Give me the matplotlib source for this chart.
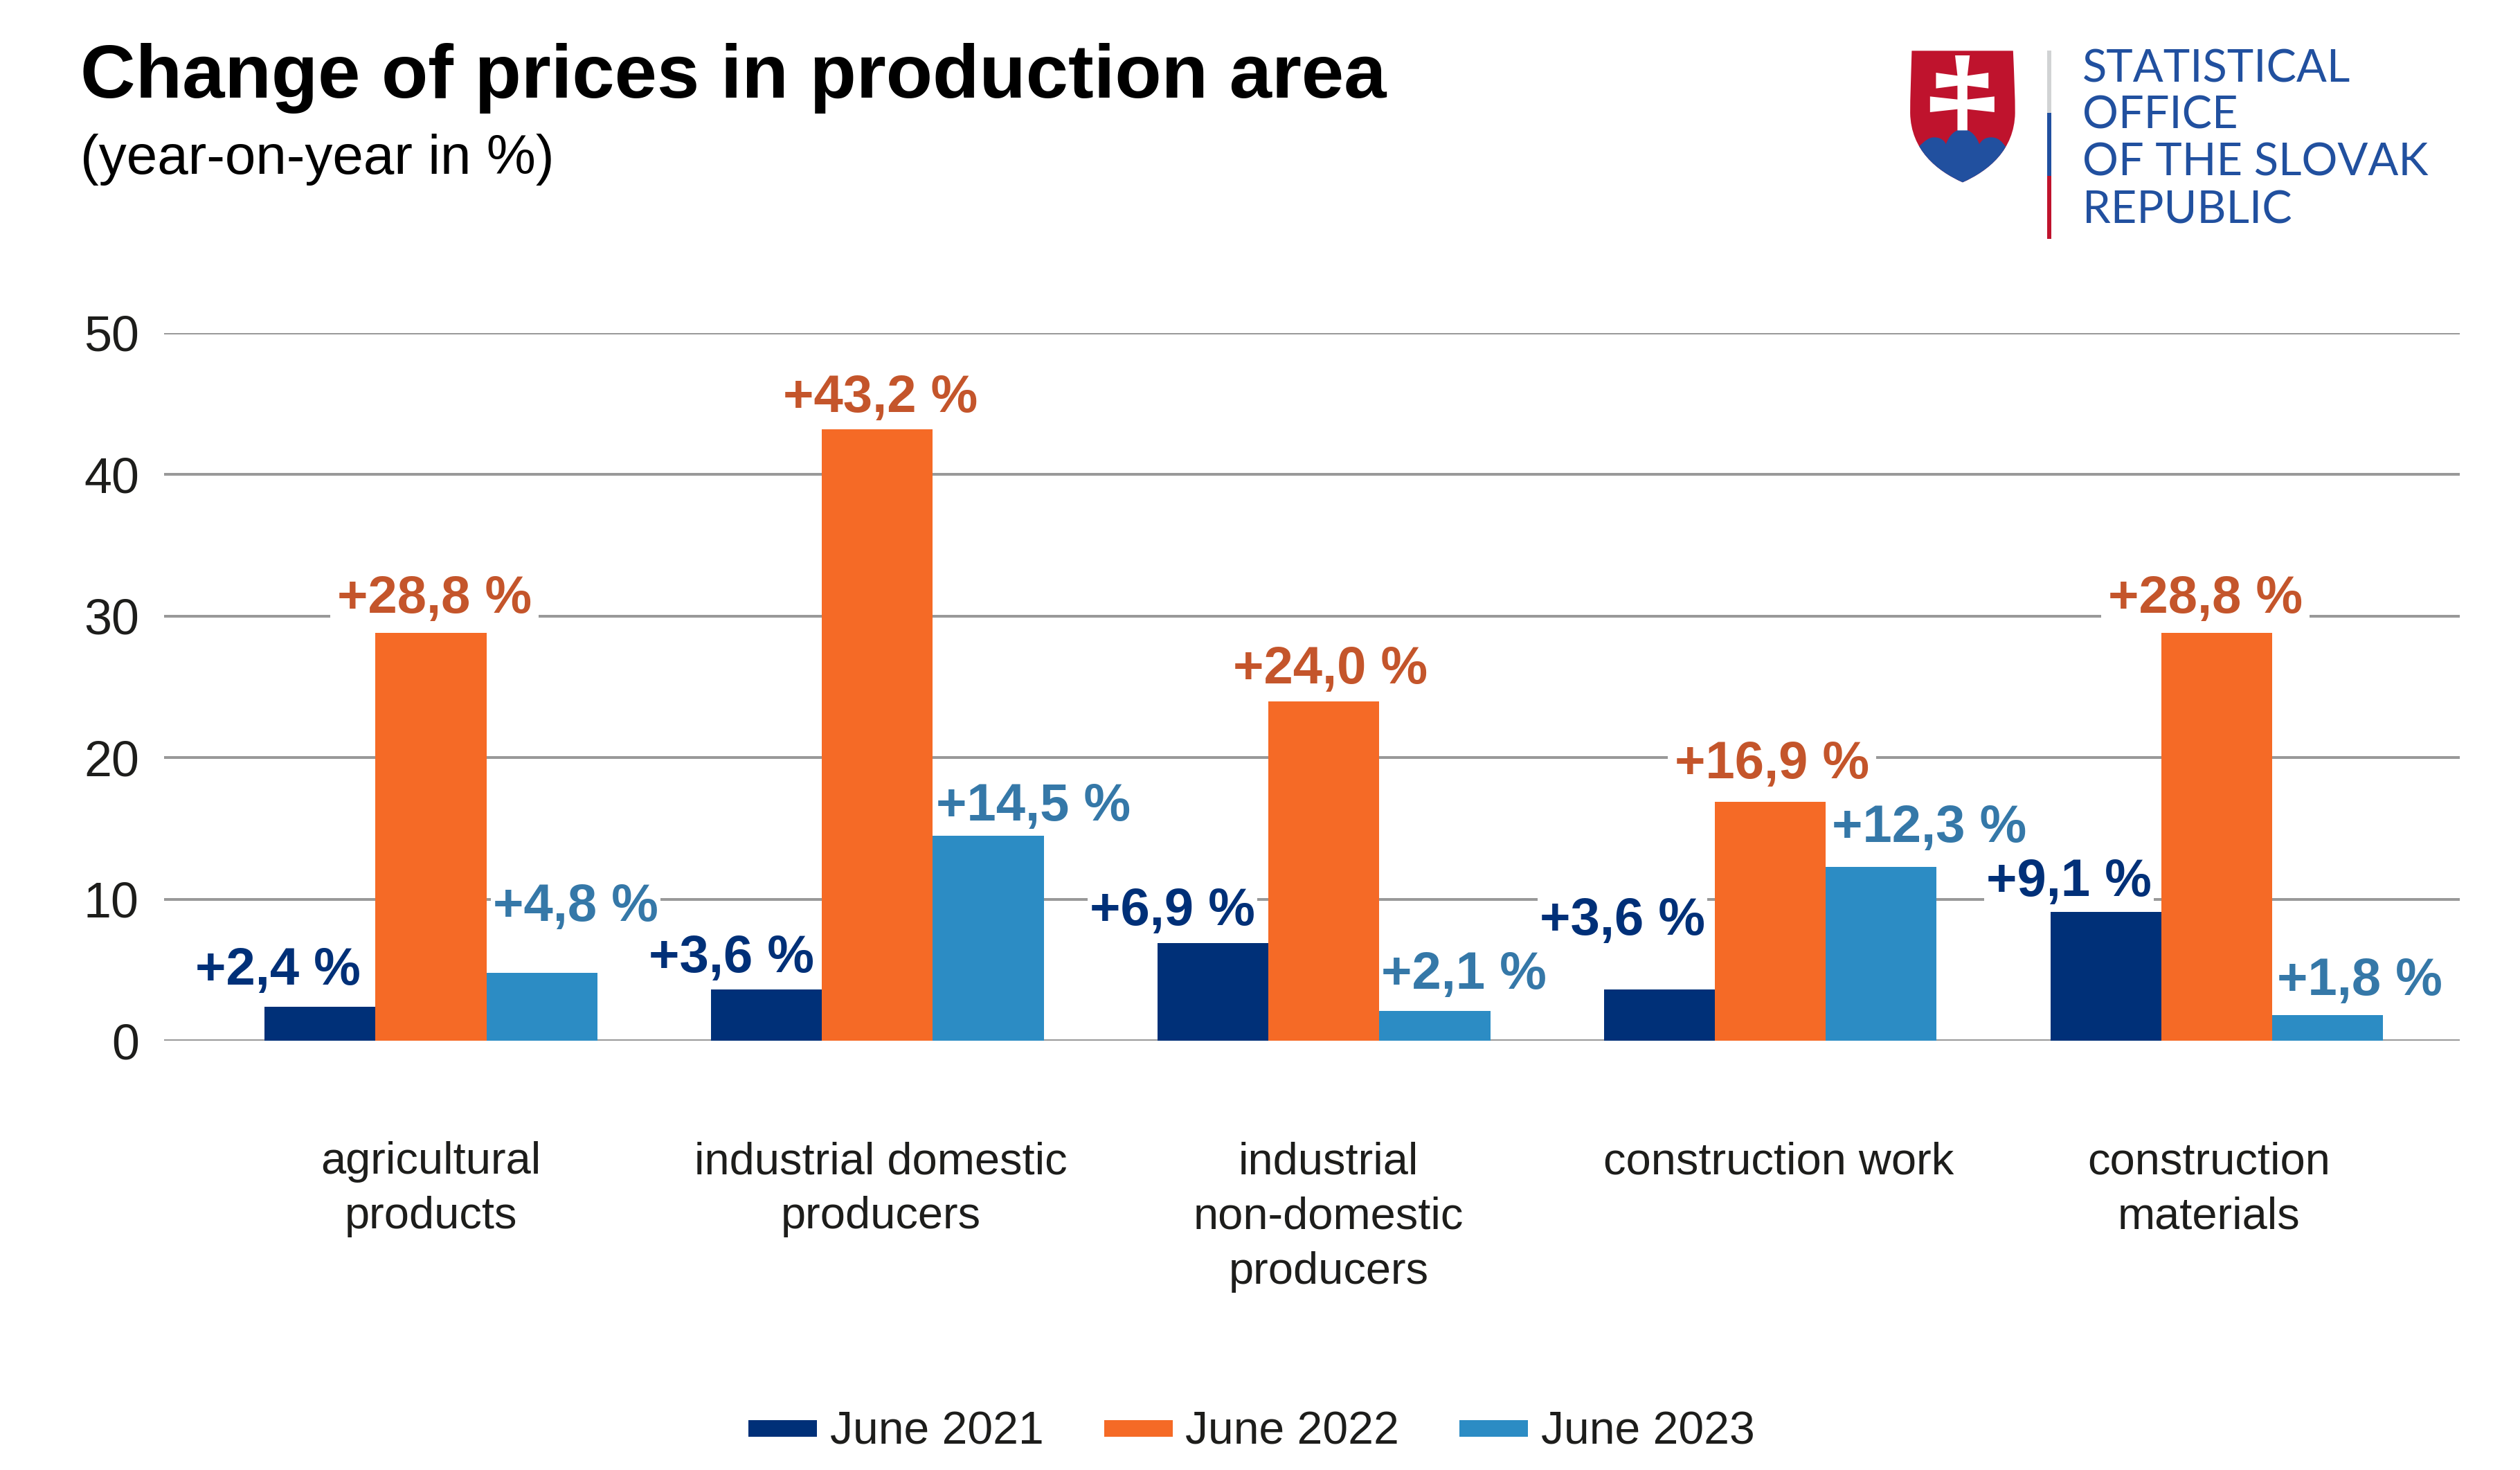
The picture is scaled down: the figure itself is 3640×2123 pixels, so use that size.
import numpy as np
import matplotlib
matplotlib.use('Agg')
from matplotlib import pyplot as plt
from matplotlib.patches import PathPatch, Rectangle
from matplotlib.path import Path
from matplotlib.lines import Line2D

plt.rcParams['font.family'] = ['Liberation Sans', 'DejaVu Sans']

W, H = 3641, 2123
DPI = 100

categories = ['agricultural\nproducts', 'industrial domestic\nproducers',
              'industrial\nnon-domestic\nproducers', 'construction work',
              'construction\nmaterials']
series_names = ['June 2021', 'June 2022', 'June 2023']
june_2021 = [2.4, 3.6, 6.9, 3.6, 9.1]
june_2022 = [28.8, 43.2, 24.0, 16.9, 28.8]
june_2023 = [4.8, 14.5, 2.1, 12.3, 1.8]
y_ticks = [0, 10, 20, 30, 40, 50]

colors = ['#003078', '#f56a26', '#2c8cc4']
label_colors = ['#003078', '#c4552b', '#3578a8']

# hand placed data labels, offset from the top of each bar (px in the 1568 wide view)
label_dx = [[-26, -22, -25, -23, -23], [2, 2, 4, 1, -7], [21, 28, 18, 30, 20]]
label_dy = [[2.5, 2.2, 2.2, 4.85, 2.1], [2.4, 2.2, 2.2, 2.6, 2.4], [4.6, 2.0, 2.5, 2.7, 2.4]]
cat_dx = [0, 2, 3, 5, -5]

def px(v):
    return v * 72 / DPI

fig = plt.figure(figsize=(W / DPI, H / DPI), dpi=DPI)
ax = fig.add_axes([237 / W, 1 - 1503 / H, (3553 - 237) / W, (1503 - 481) / H])

step = 277.7
bar_w = 69 / step
x = np.arange(len(categories))
all_series = [june_2021, june_2022, june_2023]

for i, vals in enumerate(all_series):
    ax.bar(x + (i - 1) * bar_w, vals, bar_w, color=colors[i], zorder=3)

for i, vals in enumerate(all_series):
    for j, v in enumerate(vals):
        txt = '+' + f'{v:.1f}'.replace('.', ',') + ' %'
        ax.text(j + (i - 1) * bar_w + label_dx[i][j] / step, v + label_dy[i][j], txt,
                ha='center', va='center', fontsize=px(76), fontweight='bold',
                color=label_colors[i], zorder=4,
                bbox=dict(facecolor='white', edgecolor='none', pad=px(10 if i == 1 else 3)))

ax.set_xlim((102 - 268) / step, (1530 - 268) / step)
ax.set_ylim(0, 50)
ax.set_yticks(y_ticks)
ax.set_xticks([])
ax.tick_params(axis='y', length=0, pad=px(36), labelsize=px(72), labelcolor='#1d1d1b')
ax.yaxis.grid(True, color='#999999', linewidth=px(4), zorder=1)
ax.set_axisbelow(True)
for s in ax.spines.values():
    s.set_visible(False)
for j, c in enumerate(categories):
    ax.annotate(c, xy=(j + cat_dx[j] / step, 0), xycoords='data', xytext=(0, -px(145)),
                textcoords='offset points', ha='center', va='top',
                fontsize=px(65), color='#1d1d1b', linespacing=1.41, annotation_clip=False)

handles = [Line2D([0], [0], color=c, linewidth=px(24), solid_capstyle='butt') for c in colors]
fig.legend(handles, series_names, loc='center', bbox_to_anchor=(0.4965, 1 - 2069 / H),
           ncol=3, frameon=False, fontsize=px(66), handlelength=1.5, handletextpad=0.28,
           columnspacing=1.32, labelcolor='#1d1d1b')

fig.text(116 / W, 1 - 113 / H, 'Change of prices in production area', fontsize=px(110.3),
         fontweight='bold', color='black', ha='left', va='center')
fig.text(116 / W, 1 - 231 / H, '(year-on-year in %)', fontsize=px(80), color='black',
         ha='left', va='center')

logo = fig.add_axes([0, 0, 1, 1], zorder=5)
logo.set_xlim(0, W)
logo.set_ylim(H, 0)
logo.axis('off')
logo.patch.set_alpha(0)

def z(p):
    return [(2700 + a / 1.742, 30 + b / 3) for a, b in p]

blue = '#21509f'
red = '#bf132d'
C = Path.CURVE4
shield = Path(z([(107, 130), (362, 130), (365, 250), (367, 330), (367, 400), (365, 560), (300, 650), (235, 700),
                 (170, 650), (105, 560), (103, 400), (103, 330), (105, 250), (107, 130)]),
              [Path.MOVETO, Path.LINETO, C, C, C, C, C, C, C, C, C, C, C, C])
logo.add_patch(PathPatch(shield, facecolor=red, edgecolor='none'))
hills = Path(z([(125, 545), (140, 520), (150, 505), (163, 505), (180, 505), (190, 520), (193, 535),
                (200, 500), (215, 470), (235, 470), (255, 470), (270, 500), (277, 535),
                (282, 520), (290, 505), (307, 505), (325, 505), (335, 525), (345, 550),
                (345, 710), (125, 710), (125, 545)]),
             [Path.MOVETO, C, C, C, C, C, C, C, C, C, C, C, C, C, C, C, C, C, C, Path.LINETO, Path.LINETO, Path.CLOSEPOLY])
hp = PathPatch(hills, facecolor=blue, edgecolor='none')
logo.add_patch(hp)
hp.set_clip_path(PathPatch(shield, transform=logo.transData))

cross = [(216, 150), (253, 150), (247, 238), (300, 225), (300, 293), (247, 281), (247, 341), (315, 328),
         (315, 396), (247, 383), (247, 475), (222, 475), (222, 383), (153, 396), (153, 328), (222, 341),
         (222, 281), (168, 293), (168, 225), (222, 238)]
logo.fill(*zip(*z(cross)), color='white', linewidth=0)

for y0, y1, c in [(130, 400, '#d1d3d4'), (400, 673, blue), (673, 945, red)]:
    (xa, ya), (xb, yb) = z([(447, y0), (459, y1)])
    logo.add_patch(Rectangle((xa, ya), xb - xa, yb - ya, facecolor=c, edgecolor='none'))

for line, base in zip(['STATISTICAL', 'OFFICE', 'OF THE SLOVAK', 'REPUBLIC'], [265, 468, 672, 877]):
    (tx, ty), = z([(537, base)])
    logo.text(tx, ty, line, fontsize=px(65), color=blue, ha='left', va='baseline',
              family=['Lato', 'DejaVu Sans'])

fig.savefig('out.png', dpi=DPI)
